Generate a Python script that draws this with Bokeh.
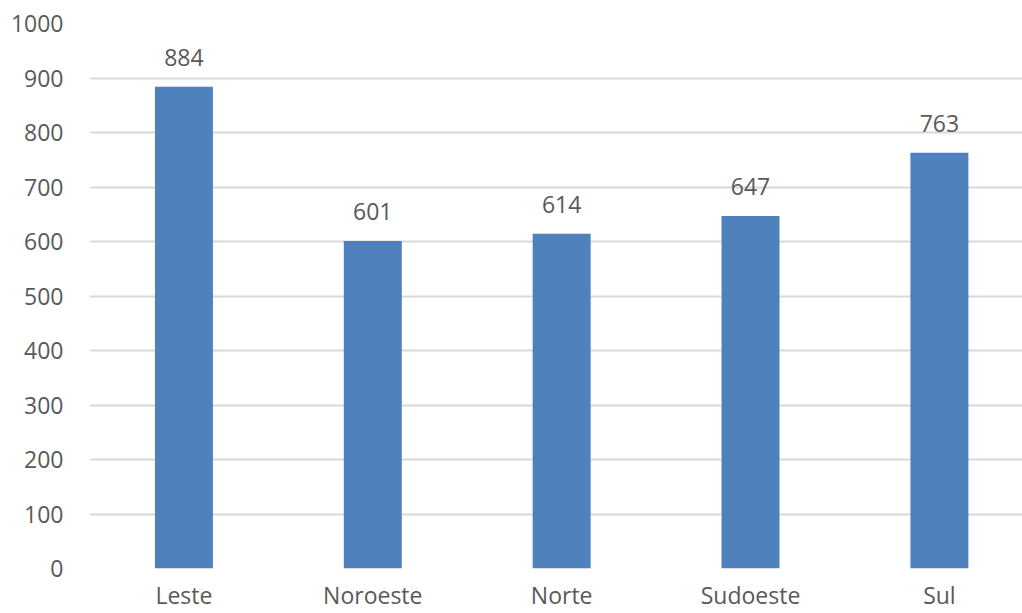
from bokeh.plotting import figure
from bokeh.models import ColumnDataSource, Range1d, FixedTicker, LabelSet
from bokeh.core.properties import value
from bokeh.embed import file_html
from bokeh.resources import INLINE

# Regions and their totals
categories = ["Leste", "Noroeste", "Norte", "Sudoeste", "Sul"]
values = [884, 601, 614, 647, 763]
y_ticks = [0, 100, 200, 300, 400, 500, 600, 700, 800, 900, 1000]

BAR_COLOR = "#4F81BD"
TEXT_COLOR = "#595959"
GRID_COLOR = "#D9D9D9"
FONT = "Open Sans"
FONT_SIZE = "23px"

xs = list(range(len(categories)))
source = ColumnDataSource(dict(
    x=xs,
    cat=categories,
    value=values,
    label=[str(v) for v in values],
))

p = figure(
    width=1022, height=613,
    output_backend="svg", toolbar_location=None,
    x_range=Range1d(-0.5, 4.44), y_range=Range1d(0, 1000),
    min_border_left=89, min_border_right=0,
    min_border_top=23, min_border_bottom=45,
)
p.outline_line_color = None
p.background_fill_color = "white"
p.border_fill_color = "white"

p.vbar(x="x", top="value", width=0.307, source=source,
       fill_color=BAR_COLOR, line_color=None)

labels = LabelSet(x="x", y="value", text="label", source=source,
                  text_align="center", text_baseline="bottom", y_offset=21,
                  text_font=value(FONT), text_font_size=value(FONT_SIZE),
                  text_color=TEXT_COLOR)
p.add_layout(labels)

# Y axis: labels only, with light horizontal gridlines
p.yaxis.ticker = FixedTicker(ticks=y_ticks)
p.yaxis.axis_line_color = None
p.yaxis.major_tick_line_color = None
p.yaxis.minor_tick_line_color = None
p.yaxis.major_tick_out = 0
p.yaxis.major_tick_in = 0
p.yaxis.minor_tick_out = 0
p.yaxis.major_label_standoff = 26
p.yaxis.major_label_text_font = FONT
p.yaxis.major_label_text_font_size = FONT_SIZE
p.yaxis.major_label_text_color = TEXT_COLOR

p.ygrid.ticker = FixedTicker(ticks=y_ticks)
p.ygrid.grid_line_color = GRID_COLOR
p.ygrid.grid_line_width = 2
p.xgrid.grid_line_color = None

# X axis: category names under each bar
p.xaxis.ticker = FixedTicker(ticks=xs)
p.xaxis.major_label_overrides = {i: c for i, c in zip(xs, categories)}
p.xaxis.axis_line_color = None
p.xaxis.major_tick_line_color = None
p.xaxis.minor_tick_line_color = None
p.xaxis.major_tick_out = 0
p.xaxis.major_tick_in = 0
p.xaxis.minor_tick_out = 0
p.xaxis.major_label_standoff = 10
p.xaxis.major_label_text_baseline = "alphabetic"
p.xaxis.major_label_text_font = FONT
p.xaxis.major_label_text_font_size = FONT_SIZE
p.xaxis.major_label_text_color = TEXT_COLOR

open("out.html", "w").write(file_html(p, INLINE))
